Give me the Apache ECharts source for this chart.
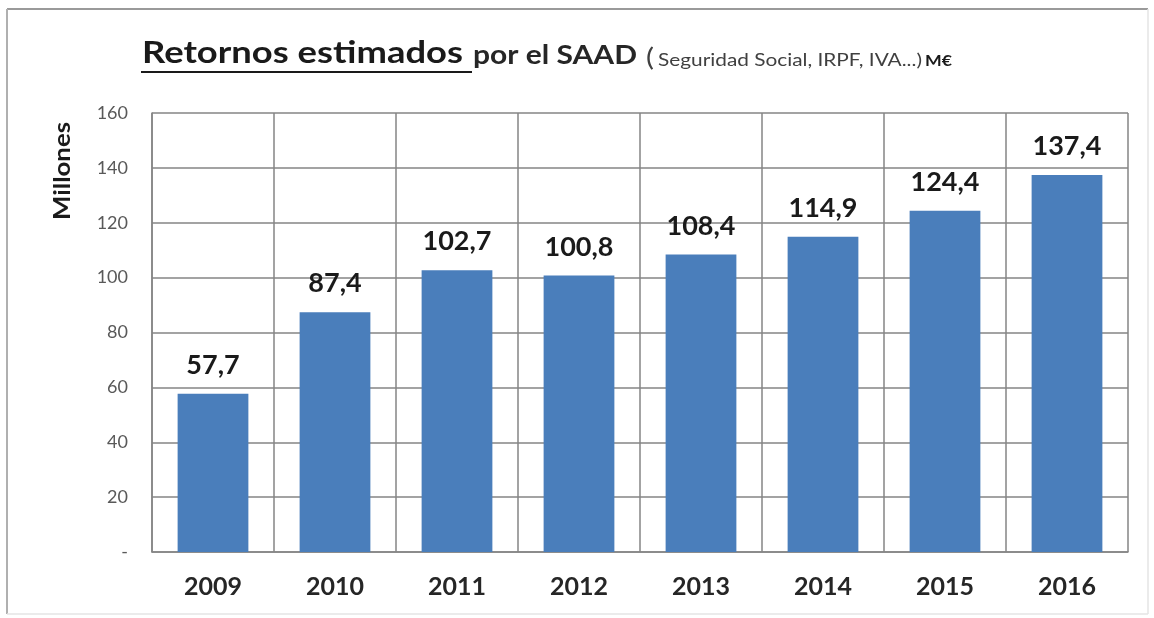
<!DOCTYPE html>
<html>
<head>
<meta charset="utf-8">
<script src="https://cdn.jsdelivr.net/npm/echarts@6/dist/echarts.min.js"></script>
<style>
html,body{margin:0;padding:0;background:#fff;}
#chart{width:1154px;height:618px;}
</style>
</head>
<body>
<div id="chart"></div>
<script>
const categories = ['2009','2010','2011','2012','2013','2014','2015','2016'];
const values = [57.7, 87.4, 102.7, 100.8, 108.4, 114.9, 124.4, 137.4];
const yTicks = [0, 20, 40, 60, 80, 100, 120, 140, 160];
const titleParts = ['Retornos estimados', 'por el SAAD', '(', 'Seguridad Social, IRPF, IVA...)', 'M€'];
const yAxisName = 'Millones';

const FONT = 'Lato, "Open Sans", sans-serif';
// layout for each title piece: left x, target width, baseline y, font
const titleLayout = [
  {x: 142, w: 321, base: 65, size: 30, weight: 'bold', color: '#1a1a1a'},
  {x: 473, w: 164, base: 66, size: 26, weight: 'bold', color: '#262626'},
  {x: 646, w: 8, base: 68, size: 25, weight: 'normal', color: '#404040'},
  {x: 658, w: 264, base: 67, size: 17, weight: 'normal', color: '#404040'},
  {x: 925, w: 27, base: 67, size: 16, weight: 'bold', color: '#1a1a1a'}
];
const cnv = document.createElement('canvas').getContext('2d');
function measure(t, font){ cnv.font = font; return cnv.measureText(t).width; }

const titleGraphics = [];
titleParts.forEach((t, i) => {
  const L = titleLayout[i];
  const font = L.weight + ' ' + L.size + 'px ' + FONT;
  const sx = L.w / measure(t, font);
  titleGraphics.push({
    type: 'text', x: L.x, y: L.base - 0.387 * L.size, scaleX: sx, z: 10,
    style: {text: t, font: font, fill: L.color, align: 'left', verticalAlign: 'middle'}
  });
});
titleGraphics.push({type: 'line', shape: {x1: 141, y1: 72, x2: 472, y2: 72},
  style: {stroke: '#1a1a1a', lineWidth: 2}, z: 10});

const chart = echarts.init(document.getElementById('chart'));
chart.setOption({
  animation: false,
  backgroundColor: '#fff',
  grid: {left: 152, right: 26, top: 113, bottom: 66, containLabel: false},
  xAxis: {
    type: 'category', data: categories,
    axisLine: {show: true, lineStyle: {color: '#858585', width: 1.5}},
    axisTick: {show: false},
    splitLine: {show: true, lineStyle: {color: '#858585', width: 1.5}},
    axisLabel: {fontFamily: FONT, fontSize: 25, fontWeight: 'bold', color: '#262626', margin: 22}
  },
  yAxis: {
    type: 'value', min: yTicks[0], max: yTicks[yTicks.length - 1], interval: yTicks[1] - yTicks[0],
    axisLine: {show: true, lineStyle: {color: '#858585', width: 1.5}},
    axisTick: {show: false},
    splitLine: {show: true, lineStyle: {color: '#858585', width: 1.5}},
    axisLabel: {fontFamily: FONT, fontSize: 18, color: '#595959', margin: 24,
      formatter: v => v === 0 ? '-' : String(v)}
  },
  series: [{
    type: 'bar', data: values, barWidth: '58%',
    itemStyle: {color: '#4A7EBB'},
    label: {show: true, position: 'top', distance: 15, fontFamily: FONT, fontSize: 27, fontWeight: 'bold',
      color: '#1a1a1a', formatter: p => String(p.value).replace('.', ',')}
  }],
  graphic: titleGraphics.concat([
    {type: 'text', x: 63, y: 171, rotation: Math.PI / 2, scaleX: 1.12, z: 10,
      style: {text: yAxisName, font: 'bold 23px ' + FONT, fill: '#1a1a1a', align: 'center', verticalAlign: 'middle'}},
    {type: 'line', shape: {x1: 7, y1: 9, x2: 1148, y2: 9}, style: {stroke: '#9a9a9a', lineWidth: 2}},
    {type: 'line', shape: {x1: 7, y1: 9, x2: 7, y2: 614}, style: {stroke: '#b0b0b0', lineWidth: 2}},
    {type: 'line', shape: {x1: 1148, y1: 9, x2: 1148, y2: 614}, style: {stroke: '#e4e4e4', lineWidth: 1.5}},
    {type: 'line', shape: {x1: 7, y1: 614, x2: 1148, y2: 614}, style: {stroke: '#e4e4e4', lineWidth: 1.5}}
  ])
});
</script>
</body>
</html>
